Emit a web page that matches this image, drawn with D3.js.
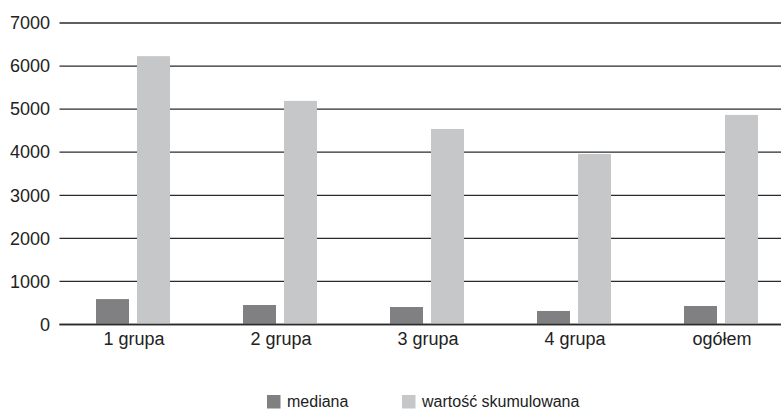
<!DOCTYPE html>
<html>
<head>
<meta charset="utf-8">
<script src="https://cdn.jsdelivr.net/npm/d3@7/dist/d3.min.js"></script>
<style>
  html, body { margin: 0; padding: 0; background: #fff; }
  svg { display: block; font-family: "Liberation Sans", Arial, Helvetica, sans-serif; }
</style>
</head>
<body>
<svg id="chart" width="781" height="410"></svg>
<script>
// Data
const categories = ["1 grupa", "2 grupa", "3 grupa", "4 grupa", "ogółem"];
const seriesNames = ["mediana", "wartość skumulowana"];
const mediana = [590, 453, 406, 314, 430];
const skumulowana = [6230, 5192, 4540, 3960, 4866];
const yTicks = [0, 1000, 2000, 3000, 4000, 5000, 6000, 7000];
const colors = ["#808083", "#c6c7c9"];

const seriesValues = [mediana, skumulowana];
const rows = categories.map((c, i) => ({
  category: c,
  values: seriesNames.map((s, j) => ({ series: s, value: seriesValues[j][i], color: colors[j] }))
}));

const svg = d3.select("#chart");

const plotLeft = 59.5, plotRight = 794.5;
const y = d3.scaleLinear().domain([0, 7000]).range([324.5, 23]);
const x0 = d3.scaleBand().domain(categories).range([plotLeft, plotRight]).padding(0);
const groupW = x0.bandwidth();
const x1 = d3.scaleBand().domain(seriesNames)
  .range([groupW / 2 - 37, groupW / 2 + 37])
  .paddingInner(8 / 41).paddingOuter(0);

// Horizontal grid lines with value labels
const yAxis = d3.axisLeft(y).tickValues(yTicks).tickSize(0).tickPadding(10).tickFormat(d3.format("d"));
const gy = svg.append("g").attr("transform", `translate(${plotLeft},0)`).call(yAxis);
gy.select(".domain").remove();
gy.selectAll("text").attr("font-size", 18).attr("fill", "#222").attr("x", -9.5);

svg.append("g").selectAll("line").data(yTicks).join("line")
  .attr("x1", plotLeft).attr("x2", plotRight)
  .attr("y1", d => y(d)).attr("y2", d => y(d))
  .attr("stroke", "#2b2b2b").attr("stroke-width", 1.3);

// Bars
const groups = svg.append("g").selectAll("g").data(rows).join("g")
  .attr("transform", d => `translate(${x0(d.category)},0)`);
groups.selectAll("rect").data(d => d.values).join("rect")
  .attr("x", d => x1(d.series))
  .attr("width", x1.bandwidth())
  .attr("y", d => y(d.value))
  .attr("height", d => y(0) - y(d.value))
  .attr("fill", d => d.color);

// Baseline drawn over the bars
svg.append("line")
  .attr("x1", plotLeft).attr("x2", plotRight)
  .attr("y1", y(0)).attr("y2", y(0))
  .attr("stroke", "#2b2b2b").attr("stroke-width", 1.5);

// Category axis
const xAxis = d3.axisBottom(x0).tickSize(0).tickPadding(8);
const gx = svg.append("g").attr("transform", `translate(0,${y(0)})`).call(xAxis);
gx.select(".domain").remove();
gx.selectAll("text").attr("font-size", 18).attr("fill", "#222")
  .attr("x", 1).attr("dy", "0.71em");

// Legend
const legendX = [267, 402];
const legend = svg.append("g").selectAll("g").data(seriesNames).join("g")
  .attr("transform", (d, i) => `translate(${legendX[i]},395)`);
legend.append("rect").attr("width", 13.5).attr("height", 13.5)
  .attr("fill", (d, i) => colors[i]);
legend.append("text").attr("x", 20).attr("y", 12).attr("font-size", 16)
  .attr("fill", "#222").text(d => d);
</script>
</body>
</html>
